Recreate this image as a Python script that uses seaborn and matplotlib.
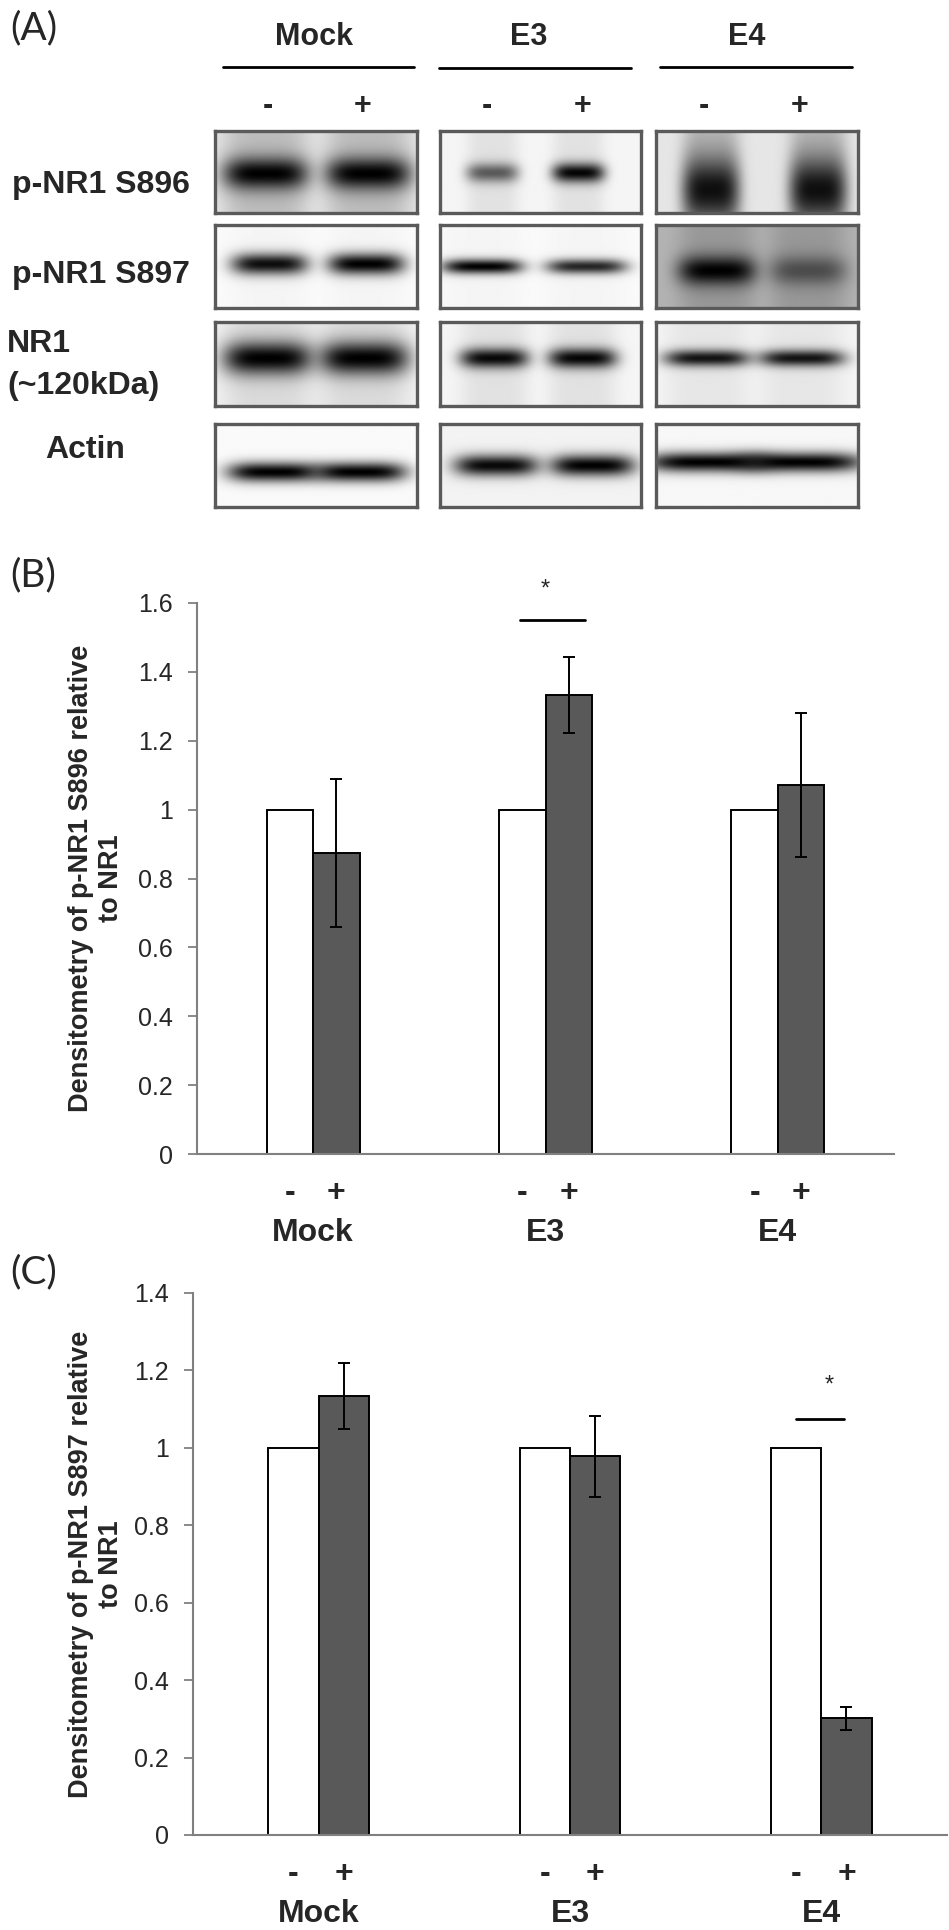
import numpy as np
import pandas as pd
import seaborn as sns
import matplotlib.pyplot as plt
from matplotlib.ticker import MultipleLocator, FuncFormatter

# ---- data ----
groups = ['Mock', 'E3', 'E4']
treatments = ['-', '+']

s896_minus = [1.0, 1.0, 1.0]
s896_plus = [0.873, 1.333, 1.071]
s896_err_plus = [0.215, 0.111, 0.21]

s897_minus = [1.0, 1.0, 1.0]
s897_plus = [1.135, 0.978, 0.301]
s897_err_plus = [0.085, 0.105, 0.029]

blot_labels = ['p-NR1 S896', 'p-NR1 S897', 'NR1', 'Actin']
# band darkness per lane: Mock-, Mock+, E3-, E3+, E4-, E4+
band_s896 = [1.0, 1.0, 0.6, 0.98, 0.92, 0.92]
band_s897 = [0.95, 1.0, 1.0, 0.85, 1.0, 0.5]
band_nr1 = [1.0, 1.0, 0.97, 0.98, 0.92, 0.92]
band_actin = [1.0, 1.0, 0.97, 1.0, 1.0, 1.0]
blot_bands = [band_s896, band_s897, band_nr1, band_actin]

# ---- layout / style ----
W, H = 949, 1930
FONT = ['Liberation Sans', 'DejaVu Sans']
sns.set_style('white')
plt.rcParams['font.family'] = FONT

fig = plt.figure(figsize=(W / 100, H / 100), dpi=100)


def px_axes(x0, y0, x1, y1, **kw):
    return fig.add_axes([x0 / W, 1 - y1 / H, (x1 - x0) / W, (y1 - y0) / H], **kw)


canvas = px_axes(0, 0, W, H)
canvas.set_xlim(0, W)
canvas.set_ylim(H, 0)
canvas.axis('off')

# panel letters
for lab, y in [('(A)', 28), ('(B)', 575), ('(C)', 1272)]:
    canvas.text(10, y, lab, fontsize=28, family=['Lato', 'DejaVu Sans'], va='center', ha='left')

# ---- panel A: blots ----
col_x = [(215, 417), (440, 641), (656, 858)]
row_y = [(131, 213), (225, 308), (322, 406), (424, 507)]
# (lane -, lane +, yc, hy, hx, background, lane smear) per row, per group
shape = [
    [(0.25, 0.76, 0.52, 0.20, 0.21, 0.10, 0.18),
     (0.26, 0.69, 0.51, 0.12, 0.13, 0.04, 0.08),
     (0.27, 0.80, 0.72, 0.40, 0.14, 0.10, 0.20)],
    [(0.27, 0.75, 0.47, 0.13, 0.19, 0.02, 0.02),
     (0.21, 0.73, 0.50, 0.09, 0.20, 0.02, 0.02),
     (0.30, 0.75, 0.55, 0.18, 0.19, 0.30, 0.15)],
    [(0.26, 0.74, 0.43, 0.20, 0.22, 0.05, 0.10),
     (0.27, 0.71, 0.43, 0.12, 0.17, 0.04, 0.08),
     (0.25, 0.72, 0.43, 0.10, 0.21, 0.04, 0.06)],
    [(0.29, 0.72, 0.58, 0.12, 0.23, 0.02, 0.0),
     (0.28, 0.76, 0.50, 0.13, 0.21, 0.05, 0.0),
     (0.25, 0.72, 0.46, 0.12, 0.30, 0.03, 0.0)],
]


def blot_image(levels, xcs, yc, hy, hx, bg, smear, n=(80, 200)):
    yy, xx = np.mgrid[0:1:n[0] * 1j, 0:1:n[1] * 1j]
    clear = np.full(n, 1.0 - bg)
    for lvl, xc in zip(levels, xcs):
        lane = np.exp(-((xx - xc) / hx) ** 4)
        clear *= 1 - smear * lane
        clear *= 1 - lvl * lane * np.exp(-((yy - yc) / hy) ** 2)
    return 1 - clear


for r, (y0, y1) in enumerate(row_y):
    for g, (x0, x1) in enumerate(col_x):
        ax = px_axes(x0, y0, x1, y1)
        xl, xr, yc, hy, hx, bg, sm = shape[r][g]
        img = blot_image(blot_bands[r][2 * g:2 * g + 2], (xl, xr), yc, hy, hx, bg, sm)
        ax.imshow(img, cmap='gray_r', vmin=0, vmax=1, aspect='auto',
                  extent=(0, 1, 1, 0), interpolation='bilinear')
        ax.set_xticks([])
        ax.set_yticks([])
        for sp in ax.spines.values():
            sp.set_color('#5a5a5a')
            sp.set_linewidth(2.4)
            sp.set_visible(True)

bold = dict(fontweight='bold', va='center')
canvas.text(12, 185, blot_labels[0], fontsize=23, ha='left', **bold)
canvas.text(12, 275, blot_labels[1], fontsize=23, ha='left', **bold)
canvas.text(7, 344, blot_labels[2], fontsize=23, ha='left', **bold)
canvas.text(7, 386, '(~120kDa)', fontsize=23, ha='left', **bold)
canvas.text(45, 450, blot_labels[3], fontsize=23, ha='left', **bold)

head_x = [314, 529, 747]
head_lines = [(223, 414, 67), (439, 631, 68), (660, 852, 67)]
sign_x = [(268, 363), (487, 583), (704, 800)]
for g, name in enumerate(groups):
    canvas.text(head_x[g], 37, name, fontsize=22, ha='center', **bold)
    xa, xb, yl = head_lines[g]
    canvas.plot([xa, xb], [yl, yl], color='black', lw=2)
    for s, sx in zip(treatments, sign_x[g]):
        canvas.text(sx, 106, s, fontsize=22, ha='center', **bold)


# ---- panels B and C: bar charts ----
def bar_panel(ax, minus, plus, err, ymax, ylabel, sig, label_x):
    df = pd.DataFrame({'group': groups * 2,
                       'treatment': ['-'] * 3 + ['+'] * 3,
                       'value': minus + plus})
    sns.barplot(data=df, x='group', y='value', hue='treatment', order=groups,
                hue_order=treatments, palette={'-': 'white', '+': '#595959'},
                edgecolor='black', linewidth=1.4, width=0.4, errorbar=None,
                legend=False, ax=ax, zorder=2)
    bars = ax.patches
    plus_bars = bars[3:6]
    ax.errorbar([p.get_x() + p.get_width() / 2 for p in plus_bars],
                [p.get_height() for p in plus_bars], yerr=err, fmt='none',
                ecolor='black', elinewidth=1.4, capsize=4, capthick=1.4, zorder=3)

    ax.set_xlim(-0.5, 2.5)
    ax.set_ylim(0, ymax)
    ax.yaxis.set_major_locator(MultipleLocator(0.2))
    ax.yaxis.set_major_formatter(FuncFormatter(lambda v, _: f'{v:g}'))
    ax.tick_params(axis='y', direction='out', length=6.5, width=1.3, color='#808080',
                   labelsize=18, pad=11, left=True)
    ax.tick_params(axis='x', length=0, labelbottom=False)
    ax.set_xlabel('')
    ax.set_ylabel('')
    for side in ['top', 'right']:
        ax.spines[side].set_visible(False)
    for side in ['left', 'bottom']:
        ax.spines[side].set_color('#808080')
        ax.spines[side].set_linewidth(1.5)

    for p, s in zip(bars[:6], ['-'] * 3 + ['+'] * 3):
        ax.annotate(s, (p.get_x() + p.get_width() / 2, 0), xycoords=('data', 'axes fraction'),
                    xytext=(0, -28), textcoords='offset points', ha='center', va='center',
                    fontsize=23, fontweight='bold')
    for i, name in enumerate(groups):
        ax.annotate(name, (i, 0), xycoords=('data', 'axes fraction'),
                    xytext=(0, -57), textcoords='offset points', ha='center', va='center',
                    fontsize=23, fontweight='bold')

    (sx0, sx1, sy), (ax_, ay) = sig
    ax.plot([sx0, sx1], [sy, sy], color='black', lw=2, clip_on=False)
    ax.text(ax_, ay, '*', ha='center', va='center', fontsize=17, clip_on=False)

    ax.text(label_x, 0.5, ylabel, transform=ax.transAxes, rotation=90, ha='center',
            va='center', fontsize=19.5, fontweight='bold', multialignment='center')


ax_b = px_axes(197, 603, 894, 1154)
bar_panel(ax_b, s896_minus, s896_plus, s896_err_plus, 1.6,
          'Densitometry of p-NR1 S896 relative\nto NR1',
          ((0.89, 1.17, 1.55), (1.0, 1.64)), -0.145)

ax_c = px_axes(193, 1293, 947, 1835)
bar_panel(ax_c, s897_minus, s897_plus, s897_err_plus, 1.4,
          'Densitometry of p-NR1 S897 relative\nto NR1',
          ((1.9, 2.09, 1.075), (2.03, 1.16)), -0.129)

fig.savefig('out.png', dpi=100)
